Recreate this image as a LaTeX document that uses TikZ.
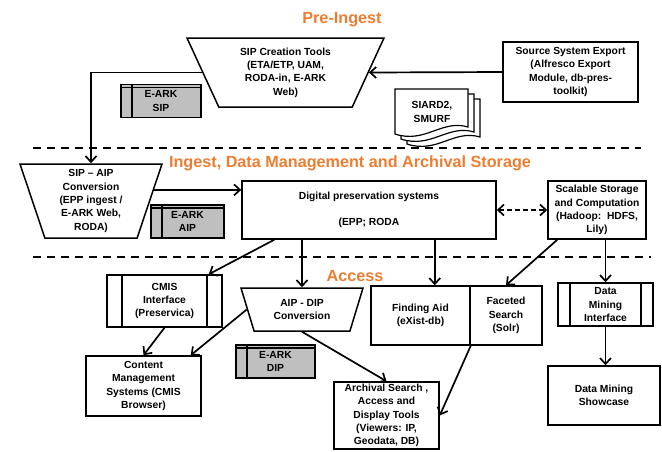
\documentclass[tikz,border=0pt]{standalone}
\usepackage{fontspec}
\setmainfont{Liberation Sans}
\usepackage{tikz}
\usetikzlibrary{shapes.geometric,arrows.meta,calc,positioning}
\definecolor{titleorange}{RGB}{237,125,49}
\tikzset{
  box/.style={draw, line width=1.5pt, fill=white, align=center, inner sep=2pt,
    font=\fontsize{10.3}{13.3}\selectfont\bfseries},
  trap/.style={box, trapezium, trapezium stretches body=true},
  ark/.style={box, fill=gray!50, minimum height=33pt,
    path picture={\draw[line width=1.2pt]
      ([xshift=11pt]path picture bounding box.north west) -- ([xshift=11pt]path picture bounding box.south west)
      ([yshift=-3pt]path picture bounding box.north west) -- ([yshift=-3pt]path picture bounding box.north east);}},
  predef/.style={box, path picture={\draw[line width=1.2pt]
      ([xshift=#1]path picture bounding box.north west) -- ([xshift=#1]path picture bounding box.south west)
      ([xshift=-#1]path picture bounding box.north east) -- ([xshift=-#1]path picture bounding box.south east);}},
  page/.style={draw, line width=1.2pt, fill=white},
  sep/.style={line width=2pt, dash pattern=on 8pt off 6pt},
  phase/.style={text=titleorange, font=\fontsize{16.2}{18}\selectfont\bfseries}
}
\begin{document}
\begin{tikzpicture}[x=1pt, y=-1pt, line width=1.7pt, >={Straight Barb[length=6pt,width=11pt]}]
   \useasboundingbox (0,0) rectangle (662,451);
   % phase titles and separators
   \node[phase] (tpre) at (342,20) {Pre-Ingest};
   \node[phase] (ting) at (350,163) {Ingest, Data Management and Archival Storage};
   \node[phase] (tacc) at (355,276) {Access};
   \draw[sep] (33,148) -- (641,148);
   \draw[sep] (33,257) -- (651,257);

   % pre-ingest
   \node[trap, trapezium left angle=120.7, trapezium right angle=120.7,
     minimum width=197pt, minimum height=69pt] (sipct) at (285.5,72.5)
     {SIP Creation Tools\\(ETA/ETP, UAM,\\RODA-in, E-ARK\\Web)};
   \node[box, minimum width=135pt, minimum height=60pt] (src) at (570.5,72)
     {Source System Export\\(Alfresco Export\\Module, db-pres-\\toolkit)};
   \foreach \d in {12,6,0}
     \draw[page, shift={(\d,\d*5/6)}] (395,89) -- (468,89) -- (468,127)
       .. controls (442,119) and (425,144) .. (395,134) -- cycle;
   \node[box, draw=none, fill=none] (siard) at (432,112) {SIARD2,\\SMURF};
   \node[ark, minimum width=80pt] (sip) at (161,101) {E-ARK\\SIP};

   % ingest, data management and archival storage
   \node[trap, trapezium left angle=110.5, trapezium right angle=110.5,
     minimum width=142pt, minimum height=74pt] (sipaip) at (91,201)
     {SIP -- AIP\\Conversion\\(EPP ingest /\\E-ARK Web,\\RODA)};
   \node[box, minimum width=254pt, minimum height=58pt] (dig) at (369,210)
     {Digital preservation systems\\[13.3pt](EPP; RODA};
   \node[ark, minimum width=73pt] (aip) at (187.5,221.5) {E-ARK\\AIP};
   \node[box, minimum width=98pt, minimum height=58pt] (scal) at (597,210)
     {Scalable Storage\\and Computation\\(Hadoop:\ \ HDFS,\\Lily)};

   % access
   \node[predef=15pt, minimum width=115pt, minimum height=52pt] (cmis) at (164.5,301)
     {CMIS\\Interface\\(Preservica)};
   \node[trap, trapezium left angle=118.1, trapezium right angle=118.1,
     minimum width=122pt, minimum height=43pt] (aipdip) at (302,309.5)
     {AIP - DIP\\Conversion};
   \node[ark, minimum width=79pt] (dip) at (275.5,361.5) {E-ARK\\DIP};
   \node[box, minimum width=115pt, minimum height=60pt] (cms) at (143.5,386)
     {Content\\Management\\Systems (CMIS\\Browser)};
   \node[box, minimum width=99pt, minimum height=59pt] (finding) at (420.5,315.5)
     {Finding Aid\\(eXist-db)};
   \node[box, minimum width=72pt, minimum height=59pt] (faceted) at (506,315.5)
     {Faceted\\Search\\(Solr)};
   \node[box, minimum width=105pt, minimum height=67pt] (archival) at (386.5,415.5)
     {Archival Search ,\\Access and\\Display Tools\\(Viewers: IP,\\Geodata, DB)};
   \node[predef=12pt, minimum width=95pt, minimum height=43pt] (dmi) at (605.5,304.5)
     {Data\\Mining\\Interface};
   \node[box, minimum width=112pt, minimum height=59pt] (showcase) at (604,395.5)
     {Data Mining\\Showcase};

   % flows
   \draw[->] (src.west) -- (sipct.east);
   \draw[->] (sipct.west) -| (sipaip.north);
   \draw[->] (sipaip.10) -- (sipaip.10 -| dig.west);
   \draw[<->, dash pattern=on 5pt off 3pt] (dig.east) -- (scal.west);
   \draw[->] ([xshift=33pt]dig.south west) -- ([xshift=-14pt]cmis.north east);
   \draw[->] (aipdip.north |- dig.south) -- (aipdip.north);
   \draw[->] ([xshift=-36pt]finding.north east |- dig.south) -- ([xshift=-36pt]finding.north east);
   \draw[->] ([xshift=10pt]scal.south west) -- (faceted.north);
   \draw[->] (dmi.north |- scal.south) -- (dmi.north);
   \draw[->] (dmi.south) -- (dmi.south |- showcase.north);
   \draw[->] (cmis.south) -- (cms.north);
   \draw[->] (aipdip.west) -- ([xshift=-11pt]cms.north east);
   \draw[->] (aipdip.south) -- (archival.north);
   \draw[->] (finding.south east) -- (archival.east);
\end{tikzpicture}
\end{document}
